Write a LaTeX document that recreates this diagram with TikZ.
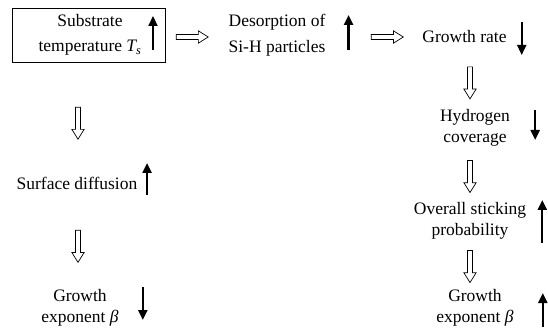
\documentclass[tikz,border=0pt]{standalone}
\usepackage{fontspec}
\setmainfont{Liberation Serif}
\usetikzlibrary{positioning, arrows.meta, shapes.arrows, fit, calc}

\tikzset{
  txt/.style={align=center, inner sep=1pt, font=\rmfamily\fontsize{17.5}{21}\selectfont},
  toptxt/.style={txt, font=\rmfamily\fontsize{17.5}{25.5}\selectfont},
  trend/.style={line width=2.2pt, -{Triangle[width=9pt,length=10pt]}},
  hollowright/.style={single arrow, draw, line width=0.7pt, inner sep=2.2pt,
    minimum height=32pt, single arrow head extend=3.6pt,
    single arrow head indent=0pt, single arrow tip angle=64},
  hollowdown/.style={hollowright, shape border rotate=270},
}

\begin{document}
\begin{tikzpicture}[x=1pt, y=-1pt]
    \useasboundingbox (0,0) rectangle (548,328);

    % ===== top row =====
    \node[toptxt] (sub) at (90,35) {Substrate\\temperature \textit{T\textsubscript{s}}};
    \coordinate (subtop) at (153,16);
    \coordinate (subbot) at (153,50);
    \coordinate (boxw) at ($(sub.west)+(-12.5,0)$);
    \node[draw, line width=0.7pt, fit=(boxw)(sub)(subtop)(subbot), inner xsep=12pt, inner ysep=5pt] (subbox) {};
    \draw[trend] (subbot) -- (subtop);

    \node[toptxt] (des) at (277,35) {Desorption of\\Si-H particles};
    \draw[trend] ($(des.east)+(22,15)$) -- ++(0,-35);

    \node[txt] (gr) at (464.5,37) {Growth rate};
    \draw[trend] ($(gr.east)+(14,-15)$) -- ++(0,33);

    \path (subbox.east |- gr) -- node[hollowright, pos=0.4] (h1) {} (des.west |- gr);
    \path (des.east |- gr) -- node[hollowright, pos=0.62] (h2) {} (gr.west);

    % ===== right column =====
    \node[txt] (hyd) at (475,128) {Hydrogen\\coverage};
    \draw[trend] ($(hyd.east)+(24,-18)$) -- ++(0,30);
    \node[txt] (stick) at (470,221) {Overall sticking\\probability};
    \draw[trend] ($(stick.east)+(15,22)$) -- ++(0,-43);
    \node[txt] (gexpr) at (475,308) {Growth\\exponent \textit{β}};
    \draw[trend] ($(gexpr.east)+(28,19)$) -- ++(0,-34);

    \path (gr.south -| stick) -- node[hollowdown, pos=0.57] (h3) {} (hyd.north -| stick);
    \path (hyd.south -| stick) -- node[hollowdown] (h4) {} (stick.north);
    \path (stick.south) -- node[hollowdown] (h5) {} (gexpr.north -| stick);

    % ===== left column =====
    \node[txt] (surf) at (77,183) {Surface diffusion};
    \draw[trend] ($(surf.east)+(8.5,12)$) -- ++(0,-32);
    \node[txt] (gexpl) at (80,308) {Growth\\exponent \textit{β}};
    \draw[trend] ($(gexpl.east)+(23,-21)$) -- ++(0,33);

    \path ([xshift=1pt]subbox.south -| surf) -- node[hollowdown, pos=0.52] (h6) {} ([xshift=1pt]surf.north);
    \path ([xshift=1pt]surf.south) -- node[hollowdown, pos=0.55] (h7) {} ([xshift=1pt]gexpl.north -| surf);

\end{tikzpicture}
\end{document}
